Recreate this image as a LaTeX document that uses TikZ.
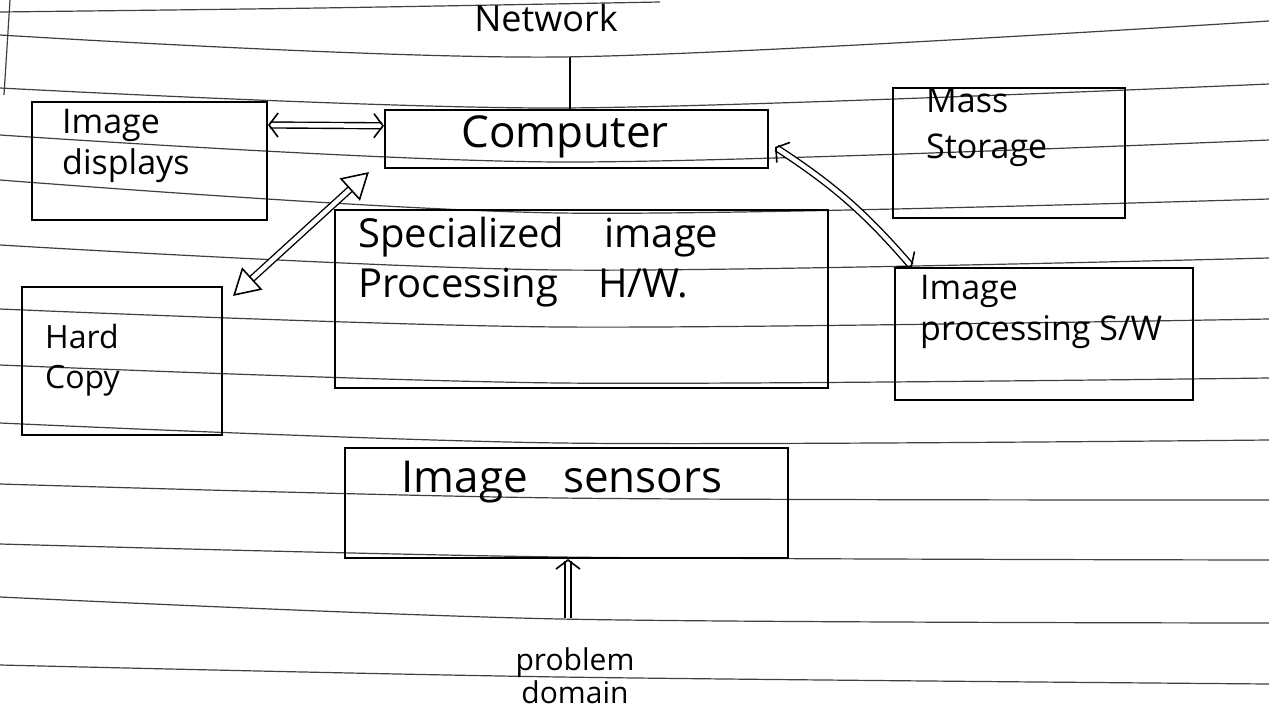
\documentclass[tikz,border=0pt]{standalone}
\usepackage{fontspec}
\setmainfont{Open Sans}
\usetikzlibrary{arrows.meta,calc}
\tikzset{
  tri/.tip={Triangle[open,length=26pt,width=30pt,line width=1.6pt]},
  imp/.tip={Straight Barb[length=9pt,width=24pt,line width=1.6pt]}
}
\begin{document}
\begin{tikzpicture}[x=1pt,y=-1pt,
  box/.style={draw, line width=2.1pt, rectangle, inner sep=0pt},
  lbl/.style={inner sep=0pt, align=left, font=\fontsize{34}{41}\selectfont},
  rule/.style={black!75, line width=1.2pt},
  dbl/.style={double, double distance=4.5pt, line width=1.4pt}
]
\useasboundingbox[fill=white] (0,0) rectangle (1269,720);
% ruled paper
\draw[rule] plot[smooth] coordinates {(0,12) (320,8) (660,2)};
\foreach \L/\M/\R in {35/57/21, 88/108/84, 135/162/140, 180/213/199, 245/270/258,
  309/327/319, 365/383/378, 423/443/440, 484/498/500, 544/557/560, 597/619/623, 665/677/684}
  \draw[rule] plot[smooth] coordinates {(0,\L) (560,\M) (1269,\R)};
\draw[rule] (10,0) -- (4,95);
% boxes
\node[box, minimum width=235pt, minimum height=118pt] (disp) at (149.5,161) {};
\node[box, minimum width=383pt, minimum height=58pt] (comp) at (576.5,139) {};
\node[box, minimum width=232pt, minimum height=130pt] (mass) at (1009,153) {};
\node[box, minimum width=493pt, minimum height=178pt] (spec) at (581.5,299) {};
\node[box, minimum width=298pt, minimum height=132pt] (sw) at (1044,334) {};
\node[box, minimum width=200pt, minimum height=148pt] (hard) at (122,361) {};
\node[box, minimum width=443pt, minimum height=110pt] (sens) at (566.5,503) {};
% labels
\node[lbl, font=\fontsize{36}{40}\selectfont] (netT) at (546,18) {Network};
\node[lbl, anchor=west] (dispT) at (62,146) {Image\\displays};
\node[lbl, font=\fontsize{44}{48}\selectfont] (compT) at (565,137) {Computer};
\node[lbl, anchor=west, font=\fontsize{34}{46}\selectfont] (massT) at (926,127) {Mass\\Storage};
\node[lbl, anchor=west, font=\fontsize{40}{50}\selectfont] (specT) at (358,262) {Specialized\quad image\\Processing\quad H/W.};
\node[lbl, anchor=west] (swT) at (920,312) {Image\\processing S/W};
\node[lbl, anchor=west, font=\fontsize{32}{40}\selectfont] (hardT) at (45,360) {Hard\\Copy};
\node[lbl, font=\fontsize{44}{48}\selectfont] (sensT) at (562,482) {Image\hspace{0.8em}sensors};
\node[lbl, align=center, font=\fontsize{30}{33}\selectfont] (pd) at (575,676) {problem\\domain};
% connectors
\coordinate (net) at (570,57);
\draw[line width=1.8pt] (net) -- (net |- comp.north);
\coordinate (a1) at ($(disp.north east)!0.2!(disp.south east)$);
\coordinate (a2) at ($(comp.north west)!0.28!(comp.south west)$);
\draw[dbl, imp-imp] (a1) -- (a2);
\coordinate (b1) at ($(hard.north east)+(10,10)$);
\coordinate (b2) at ($(comp.south west)+(-15,3)$);
\draw[dbl, tri-tri] (b1) -- (b2);
\coordinate (c1) at ($(comp.east)+(6,8)$);
\coordinate (c2) at ($(sw.north west)+(18,0)$);
\draw[dbl, imp-imp] (c1) to[bend left=8] (c2);
\coordinate (pu) at ($(pd.north)+(-7,-30)$);
\draw[dbl, -imp] (pu) -- (pu |- sens.south);
\end{tikzpicture}
\end{document}
